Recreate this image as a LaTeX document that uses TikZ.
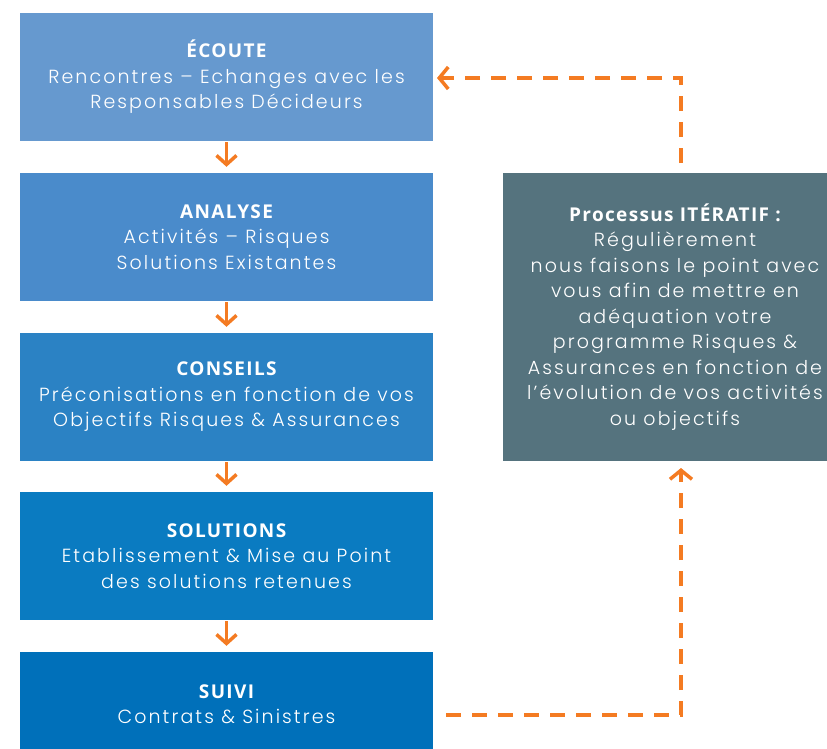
\documentclass[tikz,border=0pt]{standalone}
\usepackage{fontspec}
\setmainfont{Poppins Light}[LetterSpace=11]
\newfontfamily\titlefont{Open Sans}[LetterSpace=7]
\usetikzlibrary{arrows.meta,calc}
\definecolor{cA}{HTML}{6699CF}
\definecolor{cB}{HTML}{4A8BCB}
\definecolor{cC}{HTML}{2B82C4}
\definecolor{cD}{HTML}{0A7BC1}
\definecolor{cE}{HTML}{0070BA}
\definecolor{cG}{HTML}{55737E}
\definecolor{orng}{HTML}{F47B22}
\newcommand{\ttl}[1]{{\titlefont\bfseries\fontsize{19}{25.5}\selectfont #1}}
\begin{document}
\begin{tikzpicture}[x=1pt,y=-1pt,
  stepbox/.style={minimum width=413pt, minimum height=128pt, align=center, text=white, inner sep=0pt, font=\fontsize{19}{25.5}\selectfont},
  iterbox/.style={minimum width=344pt, minimum height=288pt, align=center, text=white, inner sep=0pt, fill=cG, font=\fontsize{19}{25.5}\selectfont},
  flowarrow/.style={draw=orng, line width=3.5pt, -{Straight Barb[length=9pt,width=20pt,line width=3.5pt]}, shorten <=1pt, shorten >=6pt},
  looparrow/.style={draw=orng, line width=4pt, dash pattern=on 15pt off 11pt},
  looptip/.style={looparrow, -{Straight Barb[length=9pt,width=22pt,line width=3.5pt]}}
]
\useasboundingbox (0,0) rectangle (827,748);
\node[stepbox, fill=cA] (ecoute) at (226.5,77) {\ttl{ÉCOUTE}\\Rencontres – Echanges avec les\\Responsables Décideurs};
\node[stepbox, fill=cB] (analyse) at (226.5,237) {\ttl{ANALYSE}\\Activités – Risques\\Solutions Existantes};
\node[stepbox, fill=cC] (conseils) at (226.5,397) {\ttl{CONSEILS}\\Préconisations en fonction de vos\\Objectifs Risques \& Assurances};
\node[stepbox, fill=cD] (solutions) at (226.5,556) {\ttl{SOLUTIONS}\\Etablissement \& Mise au Point\\des solutions retenues};
\node[stepbox, fill=cE, minimum height=104pt] (suivi) at (226.5,704) {\ttl{SUIVI}\\Contrats \& Sinistres};
\node[iterbox] (iter) at (675,317) {\ttl{Processus ITÉRATIF :}\\Régulièrement\\nous faisons le point avec\\vous afin de mettre en\\adéquation votre\\programme Risques \&\\Assurances en fonction de\\l’évolution de vos activités\\ou objectifs};
\draw[flowarrow] (ecoute) -- (analyse);
\draw[flowarrow] (analyse) -- (conseils);
\draw[flowarrow] (conseils) -- (solutions);
\draw[flowarrow] (solutions) -- (suivi);
\coordinate (topstart) at (681,163);
\coordinate (topend) at (437,78);
\coordinate (botstart) at (446,715);
\coordinate (botend) at (681,468);
\draw[looptip] (topstart) |- (topend);
\draw[looptip] (botstart) -| (botend);
\end{tikzpicture}
\end{document}
